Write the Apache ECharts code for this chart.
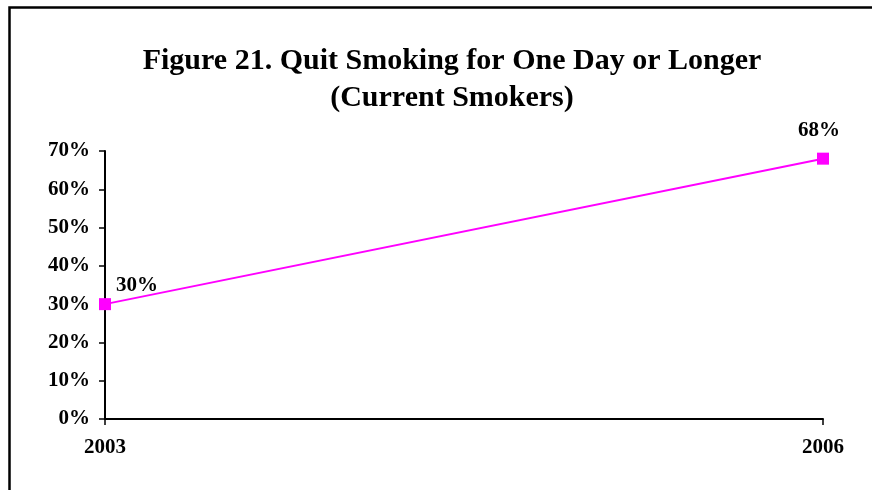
<!DOCTYPE html>
<html>
<head>
<meta charset="utf-8">
<script src="https://cdn.jsdelivr.net/npm/echarts@6/dist/echarts.min.js"></script>
<style>
html,body{margin:0;padding:0;background:#fff;}
#chart{width:872px;height:490px;}
</style>
</head>
<body>
<div id="chart"></div>
<script>
var titleLines = ['Figure 21. Quit Smoking for One Day or Longer', '(Current Smokers)'];
var years = ['2003', '2006'];
var values = [30, 68];
var yTicks = [0, 10, 20, 30, 40, 50, 60, 70];

var FONT = '"Liberation Serif", "Times New Roman", serif';
var chart = echarts.init(document.getElementById('chart'), null, {renderer: 'canvas'});
chart.setOption({
  backgroundColor: '#fff',
  animation: false,
  title: {
    text: titleLines.join('\n'),
    left: 447, top: 38, textAlign: 'center',
    textStyle: {fontFamily: FONT, fontWeight: 'bold', fontSize: 30, lineHeight: 37, color: '#000'}
  },
  graphic: [
    {type: 'polyline', shape: {points: [[9.5, 490], [9.5, 7.5], [872, 7.5]]}, style: {stroke: '#000', lineWidth: 2.5, fill: null}}
  ],
  grid: {left: 105, right: 49, top: 151, bottom: 71, containLabel: false},
  xAxis: {
    type: 'category', data: years, boundaryGap: false,
    axisLine: {lineStyle: {color: '#000', width: 2}},
    axisTick: {show: true, length: 6, lineStyle: {color: '#000', width: 1.5}, alignWithLabel: true},
    axisLabel: {fontFamily: FONT, fontWeight: 'bold', fontSize: 21, color: '#000', margin: 18}
  },
  yAxis: {
    type: 'value', min: yTicks[0], max: yTicks[yTicks.length - 1], interval: 10,
    axisLine: {show: true, lineStyle: {color: '#000', width: 2}},
    axisTick: {show: true, length: 6, lineStyle: {color: '#000', width: 1.5}},
    splitLine: {show: false},
    axisLabel: {fontFamily: FONT, fontWeight: 'bold', fontSize: 21, color: '#000', margin: 15, formatter: '{value}%'}
  },
  series: [{
    type: 'line', data: values.map(function (v, i) {
      return {
        value: v,
        label: i === 0 ? {position: 'top', distance: 2, offset: [32, 0]} : {position: 'top', distance: 12, offset: [-4, 0]}
      };
    }),
    symbol: 'rect', symbolSize: 12,
    lineStyle: {color: '#ff00ff', width: 2},
    itemStyle: {color: '#ff00ff'},
    label: {show: true, formatter: '{c}%', fontFamily: FONT, fontWeight: 'bold', fontSize: 21, color: '#000'}
  }]
});
</script>
</body>
</html>
